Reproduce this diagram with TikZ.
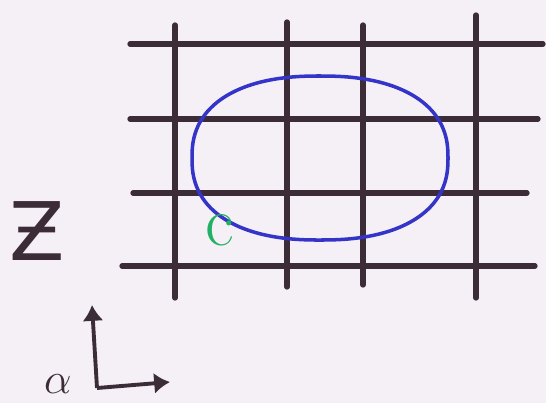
\documentclass[tikz,border=0pt]{standalone}
\usepackage{fontspec}
\usepackage{xcolor}
\usepackage{tikz}
\usetikzlibrary{arrows.meta, positioning}
\newfontfamily\symfont{DejaVu Sans}
\definecolor{skInk}{HTML}{3B2C38}
\definecolor{skBlue}{HTML}{3434C8}
\definecolor{skGreen}{HTML}{22B064}
\definecolor{skPaper}{HTML}{F5F0F5}

\begin{document}
\begin{tikzpicture}[
  x=0.02cm, y=-0.02cm,
  bar/.style={draw=skInk, line width=3pt, line cap=round},
  loop/.style={draw=skBlue, line width=2pt},
  lbl/.style={inner sep=0pt, text=skInk},
  arr/.style={draw=skInk, line width=2.2pt, -{Latex[length=9pt,width=12pt]}}
]
  \fill[skPaper] (0,0) rectangle (546,403);
  \useasboundingbox (0,0) rectangle (546,403);

  % grid
  \foreach \xa/\ya/\yb in {175/25/298, 287/22/287, 363/25/285, 476/15/298}
    \draw[bar] (\xa,\ya) -- (\xa,\yb);
  \foreach \yy/\xa/\xb in {44/130/543, 119/130/538, 193/133/527, 266/122/535}
    \draw[bar] (\xa,\yy) -- (\xb,\yy);

  % closed curve
  \draw[loop] plot[domain=0:360, samples=120, smooth]
    ({320+128*sign(cos(\x))*abs(cos(\x))^0.86},
     {158+82*sign(sin(\x))*abs(sin(\x))^0.84}) -- cycle;

  % labels
  \node[lbl, text=skGreen, font=\fontsize{40}{40}\selectfont] (c) at (220,230) {c};
  \node[lbl, font=\symfont\fontsize{46}{46}\selectfont] (z) at (37,231) {Ƶ};
  \node[lbl, font=\fontsize{36}{36}\selectfont] (alpha) at (58,384) {$\alpha$};

  % axes
  \coordinate (o) at (97,388);
  \coordinate (up) at (92,305);
  \coordinate (rt) at (170,382);
  \draw[arr] (o) -- (up);
  \draw[arr] (o) -- (rt);
\end{tikzpicture}
\end{document}
